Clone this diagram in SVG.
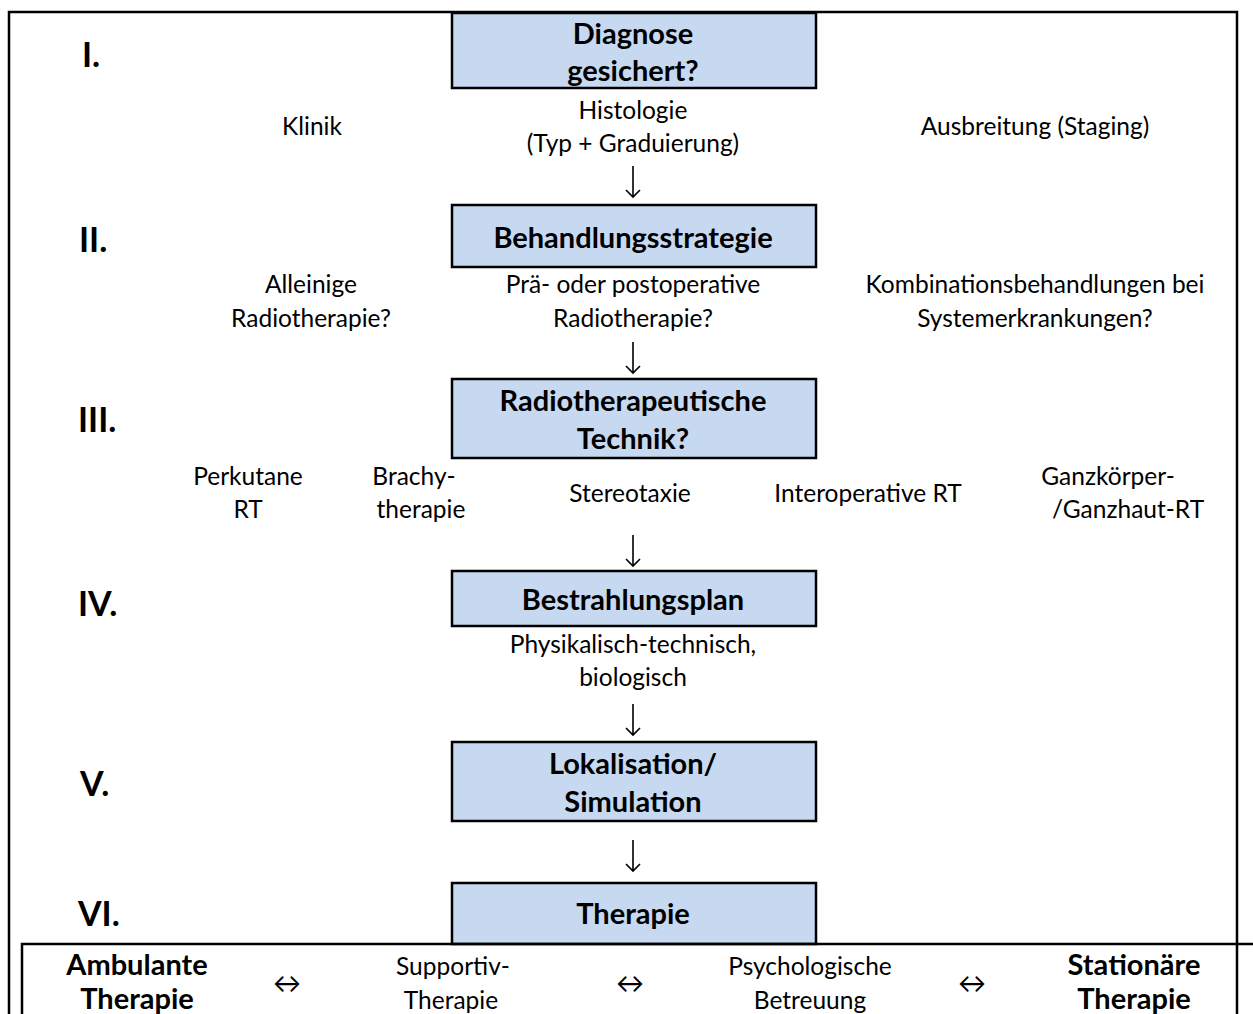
<svg xmlns="http://www.w3.org/2000/svg" width="1253" height="1014" viewBox="0 0 1253 1014">
<style>
text{font-family:Lato,"Open Sans","Liberation Sans",sans-serif;fill:#000;text-anchor:middle}
.t{font-size:24.5px}
.b{font-size:29px;font-weight:bold}
.n{font-size:34px;font-weight:bold;text-anchor:start}
.s{font-size:28px}
.box{fill:#c6d9f1;stroke:#000;stroke-width:2.5}
.frame{fill:none;stroke:#000;stroke-width:2.5}
.arr{fill:none;stroke:#000;stroke-width:1.6}
</style>
<rect width="1253" height="1014" fill="#fff"/>
<g id="frame">
<path class="frame" d="M9,1014 V12 H1237 V1014"/>
</g>
<g id="numerals">
<text class="n" x="82" y="67">I.</text>
<text class="n" x="79" y="252">II.</text>
<text class="n" x="78" y="432">III.</text>
<text class="n" x="78" y="616">IV.</text>
<text class="n" x="80" y="796">V.</text>
<text class="n" x="78" y="926">VI.</text>
</g>
<g id="connectors">
<path class="arr" d="M633,166 V197 M626,190 L633,197 L640,190"/>
<path class="arr" d="M633,342 V373 M626,366 L633,373 L640,366"/>
<path class="arr" d="M633,535 V566 M626,559 L633,566 L640,559"/>
<path class="arr" d="M633,704 V735 M626,728 L633,735 L640,728"/>
<path class="arr" d="M633,840 V871 M626,864 L633,871 L640,864"/>
</g>
<g id="n1">
<rect class="box" x="452" y="13" width="364" height="75"/>
<text class="b" x="633" y="44">Diagnose</text>
<text class="b" x="633" y="81">gesichert?</text>
</g>
<g id="n1-labels">
<text class="t" x="633" y="119">Histologie</text>
<text class="t" x="633" y="152">(Typ + Graduierung)</text>
<text class="t" x="312" y="135">Klinik</text>
<text class="t" x="1035" y="135">Ausbreitung (Staging)</text>
</g>
<g id="n2">
<rect class="box" x="452" y="205" width="364" height="62"/>
<text class="b" x="633" y="248">Behandlungsstrategie</text>
</g>
<g id="n2-labels">
<text class="t" x="311" y="293">Alleinige</text>
<text class="t" x="311" y="327">Radiotherapie?</text>
<text class="t" x="633" y="293">Prä- oder postoperative</text>
<text class="t" x="633" y="327">Radiotherapie?</text>
<text class="t" x="1035" y="293">Kombinationsbehandlungen bei</text>
<text class="t" x="1035" y="327">Systemerkrankungen?</text>
</g>
<g id="n3">
<rect class="box" x="452" y="379" width="364" height="79"/>
<text class="b" x="633" y="411">Radiotherapeutische</text>
<text class="b" x="633" y="449">Technik?</text>
</g>
<g id="n3-labels">
<text class="t" x="248" y="485">Perkutane</text>
<text class="t" x="248" y="518">RT</text>
<text class="t" x="414" y="485">Brachy-</text>
<text class="t" x="421" y="518">therapie</text>
<text class="t" x="630" y="502">Stereotaxie</text>
<text class="t" x="868" y="502">Interoperative RT</text>
<text class="t" x="1108" y="485">Ganzkörper-</text>
<text class="t" x="1128" y="518">/Ganzhaut-RT</text>
</g>
<g id="n4">
<rect class="box" x="452" y="571" width="364" height="55"/>
<text class="b" x="633" y="610">Bestrahlungsplan</text>
</g>
<g id="n4-labels">
<text class="t" x="633" y="653">Physikalisch-technisch,</text>
<text class="t" x="633" y="686">biologisch</text>
</g>
<g id="n5">
<rect class="box" x="452" y="742" width="364" height="79"/>
<text class="b" x="633" y="774">Lokalisation/</text>
<text class="b" x="633" y="812">Simulation</text>
</g>
<g id="n6">
<rect class="box" x="452" y="883" width="364" height="61"/>
<text class="b" x="633" y="924">Therapie</text>
</g>
<g id="table">
<path class="frame" d="M22,1014 V944 H1253"/>
<text class="b" x="137" y="975">Ambulante</text>
<text class="b" x="137" y="1009">Therapie</text>
<text class="s" x="287" y="993">↔</text>
<text class="t" x="453" y="975">Supportiv-</text>
<text class="t" x="451" y="1009">Therapie</text>
<text class="s" x="630" y="993">↔</text>
<text class="t" x="810" y="975">Psychologische</text>
<text class="t" x="810" y="1009">Betreuung</text>
<text class="s" x="972" y="993">↔</text>
<text class="b" x="1134" y="975">Stationäre</text>
<text class="b" x="1134" y="1009">Therapie</text>
</g>
</svg>
